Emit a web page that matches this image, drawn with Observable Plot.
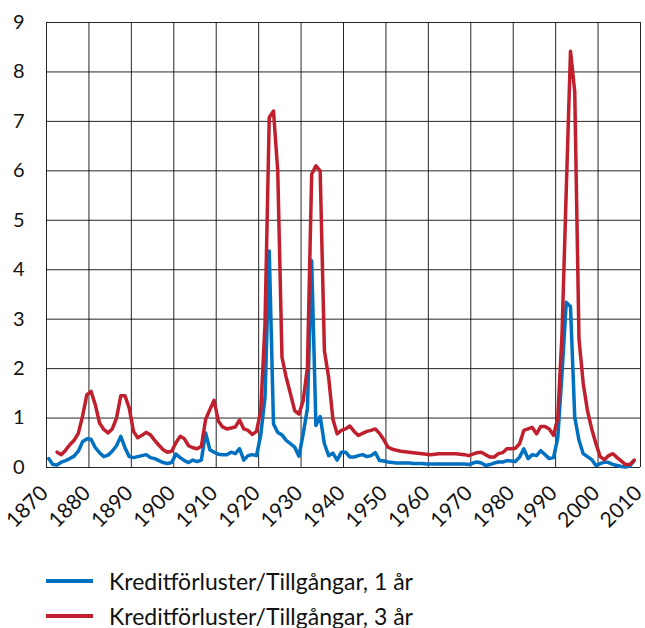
<!DOCTYPE html>
<html><head><meta charset="utf-8">
<script src="https://cdn.jsdelivr.net/npm/d3@7"></script>
<script src="https://cdn.jsdelivr.net/npm/@observablehq/plot@0.6"></script>
<style>
body{margin:0;background:#fff;font-family:Lato,sans-serif;}
#legend{margin-top:18px;}
.row{display:flex;align-items:center;height:35px;}
.sw{width:47px;height:4px;margin-left:46px;margin-right:16px;}
.lab{font-size:23px;color:#111;white-space:nowrap;}
</style></head><body>
<div id="chart"></div>
<div id="legend"></div>
<script>
const seriesNames = ["Kreditförluster/Tillgångar, 1 år", "Kreditförluster/Tillgångar, 3 år"];
const seriesColors = ["#0070C0", "#C0202E"];

const xTicks = [1870, 1880, 1890, 1900, 1910, 1920, 1930, 1940, 1950, 1960, 1970, 1980, 1990, 2000, 2010];
const yTicks = [0, 1, 2, 3, 4, 5, 6, 7, 8, 9];

// 1 år: 1870–2008
const blueStart = 1870;
const blueValues = [
  0.18, 0.06, 0.05, 0.11, 0.14, 0.18, 0.23, 0.33, 0.52, 0.58,   // 1870-79
  0.57, 0.40, 0.30, 0.22, 0.25, 0.33, 0.44, 0.63, 0.40, 0.22,   // 1880-89
  0.20, 0.22, 0.24, 0.26, 0.20, 0.18, 0.14, 0.10, 0.08, 0.10,   // 1890-99
  0.27, 0.20, 0.14, 0.10, 0.15, 0.12, 0.15, 0.70, 0.36, 0.31,   // 1900-09
  0.27, 0.26, 0.26, 0.31, 0.28, 0.38, 0.15, 0.24, 0.26, 0.24,   // 1910-19
  0.66, 1.42, 4.38, 0.88, 0.71, 0.66, 0.55, 0.48, 0.41, 0.23,   // 1920-29
  0.68, 1.20, 4.18, 0.85, 1.03, 0.48, 0.24, 0.29, 0.15, 0.31,   // 1930-39
  0.31, 0.21, 0.21, 0.24, 0.26, 0.22, 0.24, 0.30, 0.14, 0.13,   // 1940-49
  0.11, 0.10, 0.09, 0.09, 0.09, 0.09, 0.08, 0.08, 0.08, 0.07,   // 1950-59
  0.07, 0.07, 0.07, 0.07, 0.07, 0.07, 0.07, 0.07, 0.07, 0.06,   // 1960-69
  0.09, 0.11, 0.09, 0.04, 0.06, 0.09, 0.11, 0.11, 0.14, 0.13,   // 1970-79
  0.12, 0.21, 0.38, 0.18, 0.26, 0.24, 0.34, 0.26, 0.18, 0.20,   // 1980-89
  0.60, 1.90, 3.34, 3.25, 1.02, 0.55, 0.28, 0.22, 0.16, 0.04,   // 1990-99
  0.08, 0.11, 0.10, 0.06, 0.04, 0.02, 0.01, 0.03, 0.14          // 2000-08
];

// 3 år: 1872–2008
const redStart = 1872;
const redValues = [
              0.31, 0.26, 0.35, 0.46, 0.55, 0.69, 1.04, 1.47,   // 1872-79
  1.54, 1.27, 0.90, 0.77, 0.70, 0.78, 1.00, 1.45, 1.45, 1.20,   // 1880-89
  0.73, 0.60, 0.65, 0.71, 0.66, 0.55, 0.45, 0.36, 0.31, 0.33,   // 1890-99
  0.50, 0.63, 0.58, 0.44, 0.40, 0.38, 0.43, 0.97, 1.17, 1.36,   // 1900-09
  0.94, 0.82, 0.78, 0.80, 0.82, 0.96, 0.78, 0.75, 0.67, 0.73,   // 1910-19
  1.15, 2.90, 7.08, 7.21, 6.00, 2.23, 1.82, 1.49, 1.15, 1.08,   // 1920-29
  1.35, 2.03, 5.93, 6.10, 6.00, 2.36, 1.82, 0.98, 0.68, 0.75,   // 1930-39
  0.78, 0.84, 0.73, 0.65, 0.69, 0.73, 0.75, 0.78, 0.69, 0.56,   // 1940-49
  0.41, 0.37, 0.35, 0.33, 0.32, 0.31, 0.30, 0.29, 0.28, 0.27,   // 1950-59
  0.26, 0.27, 0.28, 0.28, 0.28, 0.28, 0.28, 0.27, 0.26, 0.24,   // 1960-69
  0.27, 0.30, 0.31, 0.26, 0.21, 0.21, 0.28, 0.30, 0.38, 0.38,   // 1970-79
  0.39, 0.48, 0.75, 0.78, 0.81, 0.68, 0.83, 0.83, 0.78, 0.65,   // 1980-89
  1.00, 2.70, 5.60, 8.42, 7.60, 2.60, 1.70, 1.15, 0.78, 0.48,   // 1990-99
  0.22, 0.16, 0.24, 0.28, 0.20, 0.13, 0.06, 0.06, 0.15          // 2000-08
];

const rows = [
  ...blueValues.map((v, i) => ({year: blueStart + i, value: v, series: seriesNames[0]})),
  ...redValues.map((v, i) => ({year: redStart + i, value: v, series: seriesNames[1]}))
];

const gridStyle = {stroke: "#000", strokeOpacity: 0.85, strokeWidth: 1};

const chart = Plot.plot({
  width: 645,
  height: 545,
  marginTop: 22,
  marginBottom: 78,
  marginLeft: 46,
  marginRight: 5,
  style: {fontFamily: "Lato, sans-serif", fontSize: "20px", color: "#111", background: "#fff"},
  x: {domain: [xTicks[0], xTicks[xTicks.length - 1]]},
  y: {domain: [yTicks[0], yTicks[yTicks.length - 1]]},
  color: {domain: seriesNames, range: seriesColors},
  marks: [
    Plot.gridX(xTicks, gridStyle),
    Plot.gridY(yTicks, gridStyle),
    Plot.axisY({ticks: yTicks, tickSize: 0, tickPadding: 22, label: null, fontSize: 20}),
    Plot.axisX({ticks: xTicks, tickSize: 0, tickPadding: 22, tickRotate: -45, tickFormat: "d", label: null, fontSize: 21, dx: -2}),
    Plot.line(rows, {x: d => d.year + 0.5, y: "value", z: "series", stroke: "series", strokeWidth: 3.5})
  ]
});
document.getElementById("chart").appendChild(chart);

const legend = document.getElementById("legend");
seriesNames.forEach((name, i) => {
  const row = document.createElement("div");
  row.className = "row";
  const sw = document.createElement("div");
  sw.className = "sw";
  sw.style.background = seriesColors[i];
  const lab = document.createElement("span");
  lab.className = "lab";
  lab.textContent = name;
  row.appendChild(sw);
  row.appendChild(lab);
  legend.appendChild(row);
});
</script>
</body></html>
